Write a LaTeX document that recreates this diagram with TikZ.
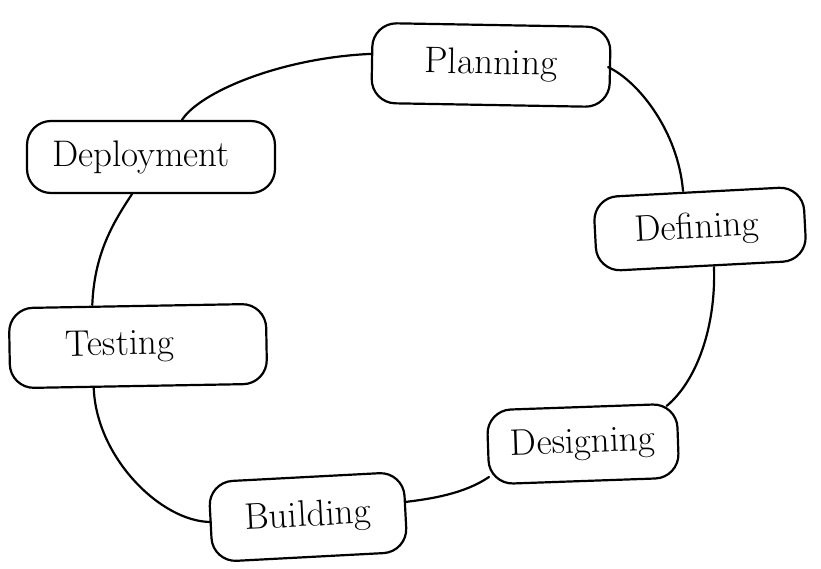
\documentclass[tikz,border=0pt]{standalone}
\begin{document}
\begin{tikzpicture}[x=1pt,y=-1pt,
  stage/.style={draw=black, line width=2.2pt, rounded corners=24pt,
    inner sep=0pt, font=\fontsize{37}{40}\selectfont},
  link/.style={draw=black, line width=2.2pt, line cap=round}]
\useasboundingbox (0,0) rectangle (821,569);
\fill[white] (0,0) rectangle (821,569);

% stages of the cycle
\node[stage, minimum width=238pt, minimum height=80pt, rotate=-1] (plan)   at (491,65)  {Planning};
\node[stage, minimum width=210pt, minimum height=74pt, rotate=3]  (define) at (700,229) {Defining\hspace*{6pt}};
\node[stage, minimum width=190pt, minimum height=74pt, rotate=2]  (design) at (583,444) {Designing};
\node[stage, minimum width=195pt, minimum height=80pt, rotate=3]  (build)  at (308,517) {Building};
\node[stage, minimum width=257pt, minimum height=80pt, rotate=1]  (test)   at (138,346) {Testing\hspace*{36pt}};
\node[stage, minimum width=248pt, minimum height=72pt]            (deploy) at (151,157) {Deployment\hspace*{20pt}};

% connectors round the loop
\draw[link] ([xshift=-3pt]plan.east) .. controls +(30,14) and +(-5,-60) .. ([xshift=-15pt]define.north);
\draw[link] ([xshift=12pt]define.south) .. controls +(2,60) and +(30,-25) .. ([xshift=85pt]design.north);
\draw[link] ([xshift=-94pt,yshift=-33pt]design.center) .. controls +(-25,17) and +(25,-3) .. ([xshift=97pt,yshift=15pt]build.center);
\draw[link] ([xshift=-45pt]test.south) .. controls +(2,70) and +(-50,0) .. ([xshift=-97pt,yshift=-5pt]build.center);
\draw[link] ([xshift=-45pt]test.north) .. controls +(2,-50) and +(-20,30) .. ([xshift=-19pt]deploy.south);
\draw[link] ([xshift=31pt]deploy.north) .. controls +(18,-28) and +(-90,4) .. ([yshift=9pt]plan.west);
\end{tikzpicture}
\end{document}
